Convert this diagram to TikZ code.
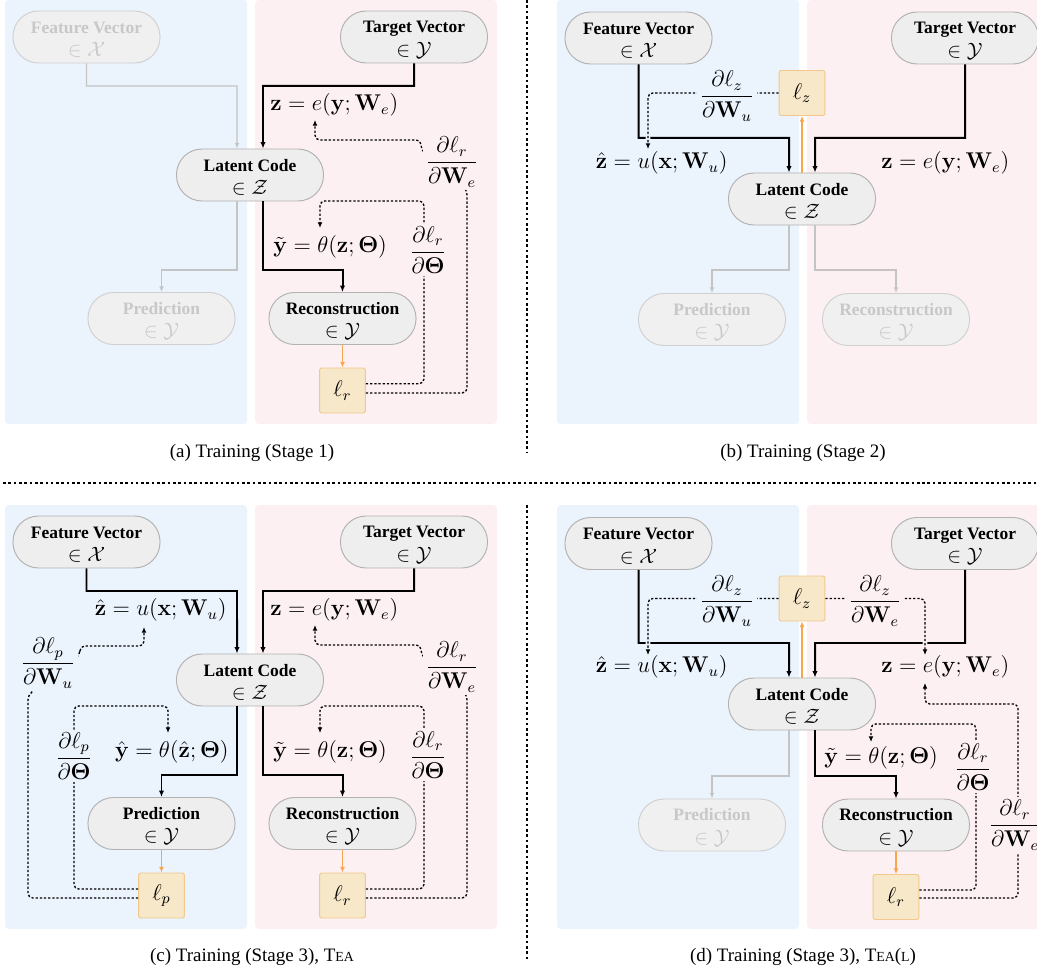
\documentclass[tikz,border=0pt]{standalone}
\usepackage{amsmath}
\usepackage{amssymb}
\usepackage[no-math]{fontspec}
\setmainfont{Liberation Serif}
\usepackage{tikz}
\usetikzlibrary{calc}
\usetikzlibrary{arrows.meta}

\definecolor{bgblue}{RGB}{235,243,253}
\definecolor{bgpink}{RGB}{253,240,242}
\definecolor{nodefill}{RGB}{238,238,238}
\definecolor{nodeline}{RGB}{178,178,178}
\definecolor{fadefill}{RGB}{240,240,240}
\definecolor{fadeline}{RGB}{208,208,208}
\definecolor{fadetext}{RGB}{200,200,200}
\definecolor{lossfill}{RGB}{246,232,200}
\definecolor{lossline}{RGB}{242,200,140}
\definecolor{lossarrow}{RGB}{250,165,80}
\definecolor{offline}{RGB}{196,196,196}

\begin{document}
\begin{tikzpicture}[x=0.527pt, y=-0.527pt,
  vecnode/.style={draw=nodeline, fill=nodefill, line width=0.5pt, rounded corners=13.5pt, minimum width=77.5pt, minimum height=27.4pt, inner sep=0pt, align=center, font=\fontsize{9.2}{12.4}\selectfont},
  fadenode/.style={vecnode, draw=fadeline, fill=fadefill, text=fadetext},
  lossnode/.style={draw=lossline, fill=lossfill, line width=0.5pt, rounded corners=1.2pt, minimum width=24.2pt, minimum height=23.7pt, inner sep=0pt, font=\fontsize{11.6}{14}\selectfont},
  mathlabel/.style={inner sep=0pt, font=\fontsize{11.6}{14}\selectfont},
  gradlabel/.style={inner sep=1.5pt, font=\fontsize{11.6}{14}\selectfont},
  caption/.style={font=\fontsize{10}{12}\selectfont},
  flow/.style={line width=1.05pt, -{Latex[length=3.4pt,width=2.8pt]}},
  offflow/.style={line width=0.7pt, draw=offline, -{Latex[length=3pt,width=2.6pt]}},
  lossflow/.style={line width=0.55pt, draw=lossarrow, -{Latex[length=3pt,width=2.6pt]}},
  grad/.style={line width=0.7pt, dash pattern=on 1.2pt off 1pt, rounded corners=2.5pt, -{Latex[length=3pt,width=2.6pt]}},
  over/.style={preaction={draw=#1, solid, line width=2.4pt, -}},
  sepline/.style={line width=1.1pt, dash pattern=on 1.4pt off 1.4pt},
]
\newcommand{\vectext}[2]{\rule{0pt}{8.8pt}\textbf{#1}\\{\fontsize{11}{12.4}\selectfont$#2$}}
\newcommand{\smallcap}[1]{{\fontsize{7.3}{9}\selectfont #1}}
\useasboundingbox (0,0) rectangle (1037,972);
\clip (0,0) rectangle (1037,972);

\draw[sepline] (3,483) -- (1037,483);
\draw[sepline] (527,0) -- (527,453);
\draw[sepline] (527,505) -- (527,960);

% (a)
\begin{scope}
\fill[bgblue, rounded corners=2pt] (5,0) rectangle (247,424);
\fill[bgpink, rounded corners=2pt] (255,0) rectangle (497,424);
\node[fadenode] (afeat) at (86.5,37) {\vectext{Feature Vector}{\in\mathcal{X}}};
\node[vecnode] (atarg) at (414,37) {\vectext{Target Vector}{\in\mathcal{Y}}};
\node[vecnode] (alat) at (250,175) {\vectext{Latent Code}{\in\mathcal{Z}}};
\node[fadenode] (apred) at (161.5,318.5) {\vectext{Prediction}{\in\mathcal{Y}}};
\node[vecnode] (arec) at (342.5,318.5) {\vectext{Reconstruction}{\in\mathcal{Y}}};
\node[lossnode] (alr) at (342.5,390.5) {$\ell_r$};
\node[mathlabel, anchor=west] (aze) at (270,105) {$\mathbf{z}=e(\mathbf{y};\mathbf{W}_e)$};
\node[mathlabel, anchor=west] (ayt) at (273,247) {$\tilde{\mathbf{y}}=\theta(\mathbf{z};\mathbf{\Theta})$};
\draw[offflow] (afeat.south) |- (237,86) -- ([xshift=-6.85pt]alat.north);
\draw[flow] (atarg.south) |- (263,86) -- ([xshift=6.85pt]alat.north);
\draw[offflow] ([xshift=-6.85pt]alat.south) |- (161.5,270) -- (apred.north);
\draw[flow] ([xshift=6.85pt]alat.south) |- (342.5,270) -- (arec.north);
\draw[lossflow] (arec) -- (alr);
\draw[grad] ([yshift=-1.3pt]alr.east) -| (467,190) -- (421,150) |- (315,140) -- (315,120);
\draw[grad] ([yshift=3.6pt]alr.east) -| (424,201) -| (320,228);
\node[gradlabel, fill=bgpink] (agWe) at (452,162) {$\dfrac{\partial\ell_r}{\partial\mathbf{W}_e}$};
\node[gradlabel, fill=bgpink] (agT) at (428,250) {$\dfrac{\partial\ell_r}{\partial\mathbf{\Theta}}$};
\node[caption] (acap) at (252,453) {(a) Training (Stage 1)};
\end{scope}

% (b)
\begin{scope}[shift={(552,0)}]
\fill[bgblue, rounded corners=2pt] (5,0) rectangle (247,424);
\fill[bgpink, rounded corners=2pt] (255,0) rectangle (497,424);
\node[vecnode] (bfeat) at (86.5,38) {\vectext{Feature Vector}{\in\mathcal{X}}};
\node[vecnode] (btarg) at (413,38) {\vectext{Target Vector}{\in\mathcal{Y}}};
\node[lossnode] (blz) at (250,93) {$\ell_z$};
\node[vecnode] (blat) at (250,199) {\vectext{Latent Code}{\in\mathcal{Z}}};
\node[fadenode] (bpred) at (160,319.5) {\vectext{Prediction}{\in\mathcal{Y}}};
\node[fadenode] (brec) at (344,319.5) {\vectext{Reconstruction}{\in\mathcal{Y}}};
\node[mathlabel, anchor=east] (bzh) at (176,163) {$\hat{\mathbf{z}}=u(\mathbf{x};\mathbf{W}_u)$};
\node[mathlabel, anchor=west] (bze) at (329,163) {$\mathbf{z}=e(\mathbf{y};\mathbf{W}_e)$};
\draw[flow] (bfeat.south) |- (237,138) -- ([xshift=-6.85pt]blat.north);
\draw[flow] (btarg.south) |- (263,138) -- ([xshift=6.85pt]blat.north);
\draw[offflow] ([xshift=-6.85pt]blat.south) |- (160,270) -- (bpred.north);
\draw[offflow] ([xshift=6.85pt]blat.south) |- (344,270) -- (brec.north);
\draw[lossflow] (blat) -- (blz);
\draw[grad, over=bgblue] (blz.west) -| (96,149);
\node[gradlabel, fill=bgblue] (bgWu) at (175,96) {$\dfrac{\partial\ell_z}{\partial\mathbf{W}_u}$};
\node[caption] (bcap) at (251,453) {(b) Training (Stage 2)};
\end{scope}

% (c)
\begin{scope}[shift={(0,505)}]
\fill[bgblue, rounded corners=2pt] (5,0) rectangle (247,424);
\fill[bgpink, rounded corners=2pt] (255,0) rectangle (497,424);
\node[vecnode] (cfeat) at (86.5,37) {\vectext{Feature Vector}{\in\mathcal{X}}};
\node[vecnode] (ctarg) at (414,37) {\vectext{Target Vector}{\in\mathcal{Y}}};
\node[vecnode] (clat) at (250,175) {\vectext{Latent Code}{\in\mathcal{Z}}};
\node[vecnode] (cpred) at (161.5,318.5) {\vectext{Prediction}{\in\mathcal{Y}}};
\node[vecnode] (crec) at (342.5,318.5) {\vectext{Reconstruction}{\in\mathcal{Y}}};
\node[lossnode] (clp) at (161.5,390.5) {$\ell_p$};
\node[lossnode] (clr) at (342.5,390.5) {$\ell_r$};
\node[mathlabel, anchor=east] (czh) at (227,105) {$\hat{\mathbf{z}}=u(\mathbf{x};\mathbf{W}_u)$};
\node[mathlabel, anchor=west] (cze) at (270,105) {$\mathbf{z}=e(\mathbf{y};\mathbf{W}_e)$};
\node[mathlabel, anchor=east] (cyh) at (229,247) {$\hat{\mathbf{y}}=\theta(\hat{\mathbf{z}};\mathbf{\Theta})$};
\node[mathlabel, anchor=west] (cyt) at (273,247) {$\tilde{\mathbf{y}}=\theta(\mathbf{z};\mathbf{\Theta})$};
\draw[flow] (cfeat.south) |- (237,86) -- ([xshift=-6.85pt]clat.north);
\draw[flow] (ctarg.south) |- (263,86) -- ([xshift=6.85pt]clat.north);
\draw[flow] ([xshift=-6.85pt]clat.south) |- (161.5,270) -- (cpred.north);
\draw[flow] ([xshift=6.85pt]clat.south) |- (342.5,270) -- (crec.north);
\draw[lossflow] (cpred) -- (clp);
\draw[lossflow] (crec) -- (clr);
\draw[grad] ([yshift=-1.3pt]clr.east) -| (467,190) -- (421,150) |- (315,140) -- (315,120);
\draw[grad] ([yshift=3.4pt]clr.east) -| (424,201) -| (320,228);
\draw[grad] ([yshift=-1.3pt]clp.west) -| (28,190) -- (80,150) |- (144,141) -- (144,122);
\draw[grad] ([yshift=3.4pt]clp.west) -| (74,201) -| (168,228);
\node[gradlabel, fill=bgpink] (cgWe) at (452,162) {$\dfrac{\partial\ell_r}{\partial\mathbf{W}_e}$};
\node[gradlabel, fill=bgpink] (cgT) at (428,250) {$\dfrac{\partial\ell_r}{\partial\mathbf{\Theta}}$};
\node[gradlabel, fill=bgblue] (cgpWu) at (48,158) {$\dfrac{\partial\ell_p}{\partial\mathbf{W}_u}$};
\node[gradlabel, fill=bgblue] (cgpT) at (74,251) {$\dfrac{\partial\ell_p}{\partial\mathbf{\Theta}}$};
\node[caption] (ccap) at (252,452) {(c) Training (Stage 3), T\smallcap{EA}};
\end{scope}

% (d)
\begin{scope}[shift={(552,505)}]
\fill[bgblue, rounded corners=2pt] (5,0) rectangle (247,424);
\fill[bgpink, rounded corners=2pt] (255,0) rectangle (497,424);
\node[vecnode] (dfeat) at (86.5,38.5) {\vectext{Feature Vector}{\in\mathcal{X}}};
\node[vecnode] (dtarg) at (413,38.5) {\vectext{Target Vector}{\in\mathcal{Y}}};
\node[lossnode] (dlz) at (250,93.5) {$\ell_z$};
\node[vecnode] (dlat) at (250,199) {\vectext{Latent Code}{\in\mathcal{Z}}};
\node[fadenode] (dpred) at (160,320) {\vectext{Prediction}{\in\mathcal{Y}}};
\node[vecnode] (drec) at (344,320) {\vectext{Reconstruction}{\in\mathcal{Y}}};
\node[lossnode] (dlr) at (344,392) {$\ell_r$};
\node[mathlabel, anchor=east] (dzh) at (176,162) {$\hat{\mathbf{z}}=u(\mathbf{x};\mathbf{W}_u)$};
\node[mathlabel, anchor=west] (dze) at (329,162) {$\mathbf{z}=e(\mathbf{y};\mathbf{W}_e)$};
\node[mathlabel, anchor=west] (dyt) at (272,253) {$\tilde{\mathbf{y}}=\theta(\mathbf{z};\mathbf{\Theta})$};
\draw[flow] (dfeat.south) |- (237,138) -- ([xshift=-6.85pt]dlat.north);
\draw[flow] (dtarg.south) |- (263,138) -- ([xshift=6.85pt]dlat.north);
\draw[offflow] ([xshift=-6.85pt]dlat.south) |- (160,271) -- (dpred.north);
\draw[flow] ([xshift=6.85pt]dlat.south) |- (344,271) -- (drec.north);
\draw[lossflow] (dlat) -- (dlz);
\draw[lossflow] (drec) -- (dlr);
\draw[grad, over=bgblue] (dlz.west) -| (96,150);
\draw[grad, over=bgpink] (dlz.east) -| (373,150);
\draw[grad] ([yshift=-0.5pt]dlr.east) -| (466,199) -| (373,178);
\draw[grad] ([yshift=3.7pt]dlr.east) -| (424,219) -| (319,237);
\node[gradlabel, fill=bgblue] (dgWu) at (175,96) {$\dfrac{\partial\ell_z}{\partial\mathbf{W}_u}$};
\node[gradlabel, fill=bgpink] (dgWe) at (323,96) {$\dfrac{\partial\ell_z}{\partial\mathbf{W}_e}$};
\node[gradlabel, fill=bgpink] (dgT) at (421,262) {$\dfrac{\partial\ell_r}{\partial\mathbf{\Theta}}$};
\node[gradlabel, fill=bgpink] (dgrWe) at (463,320) {$\dfrac{\partial\ell_r}{\partial\mathbf{W}_e}$};
\node[caption] (dcap) at (251,452) {(d) Training (Stage 3), T\smallcap{EA}(\smallcap{L})};
\end{scope}
\end{tikzpicture}
\end{document}
